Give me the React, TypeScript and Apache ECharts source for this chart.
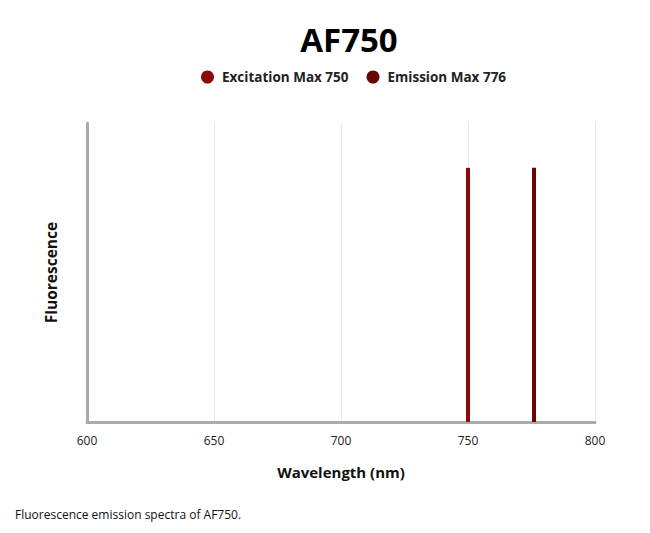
import React, { useEffect, useRef } from "react";
import * as echarts from "echarts";

const seriesNames = ["Excitation Max 750", "Emission Max 776"];
const peakWavelengths = [750, 776];
const peakHeights = [85, 85];
const seriesColors = ["#8b0a0a", "#680606"];
const xTicks = [600, 650, 700, 750, 800];

export default function App() {
  const ref = useRef<HTMLDivElement>(null);
  useEffect(() => {
    if (!ref.current) return;
    const chart = echarts.init(ref.current, null, { renderer: "svg" });
    const font = "'Open Sans', 'Noto Sans', sans-serif";
    chart.setOption({
      animation: false,
      legend: {
        top: 65,
        left: 196,
        icon: "circle",
        itemWidth: 13,
        itemHeight: 13,
        itemGap: 18,
        textStyle: { fontFamily: font, fontSize: 13.5, fontWeight: "bold", color: "#222", padding: [0, 0, 0, 3] },
        data: seriesNames,
      },
      grid: { left: 87, right: 55, top: 123, bottom: 111 },
      xAxis: {
        type: "value",
        min: xTicks[0],
        max: xTicks[xTicks.length - 1],
        interval: 50,
        name: "Wavelength (nm)",
        nameLocation: "middle",
        nameGap: 42,
        nameTextStyle: { fontFamily: font, fontSize: 15, fontWeight: "bold", color: "#111" },
        axisLine: { show: true, lineStyle: { color: "#aaaaaa", width: 3 } },
        axisTick: { show: false },
        axisLabel: { fontFamily: font, fontSize: 12, color: "#222", margin: 12 },
        splitLine: { show: true, lineStyle: { color: "#e8e8e8", width: 1 } },
      },
      yAxis: {
        type: "value",
        min: 0,
        max: 100,
        name: "Fluorescence",
        nameLocation: "middle",
        nameGap: 28,
        nameTextStyle: { fontFamily: font, fontSize: 15.5, fontWeight: "bold", color: "#111" },
        axisLine: { show: true, lineStyle: { color: "#aaaaaa", width: 3 } },
        axisTick: { show: false },
        axisLabel: { show: false },
        splitLine: { show: false },
      },
      graphic: [
        {
          type: "text",
          x: 349,
          y: 39,
          style: {
            text: "AF750",
            fontFamily: font,
            fontSize: 33,
            fontWeight: "bold",
            fill: "#000",
            align: "center",
            verticalAlign: "middle",
          },
        },
        {
          type: "text",
          left: 15,
          top: 508,
          style: {
            text: "Fluorescence emission spectra of AF750.",
            fontFamily: font,
            fontSize: 12,
            fill: "#111",
          },
        },
      ],
      series: seriesNames.map((name, i) => ({
        name,
        type: "line",
        symbol: "none",
        itemStyle: { color: seriesColors[i] },
        lineStyle: { color: seriesColors[i], width: 4 },
        data: [
          [peakWavelengths[i], 0],
          [peakWavelengths[i], peakHeights[i]],
        ],
      })),
    });
    return () => chart.dispose();
  }, []);
  return <div ref={ref} style={{ width: 650, height: 533, position: "absolute", left: 0, top: 0 }} />;
}
